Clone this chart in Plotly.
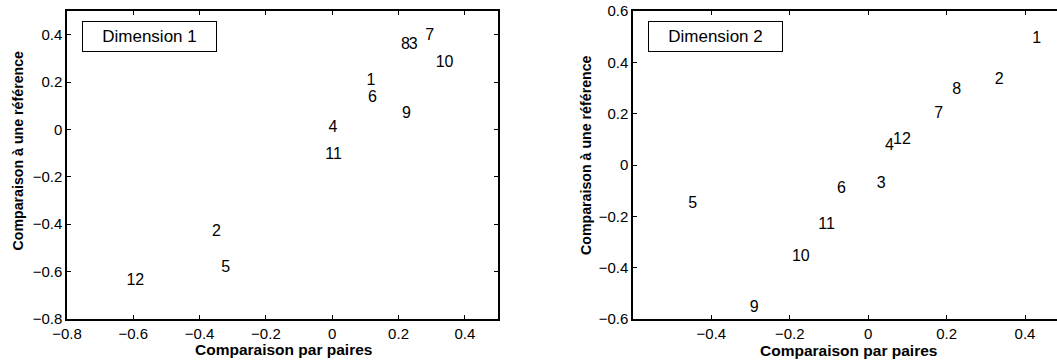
import plotly.graph_objects as go

# ---- Data ----
dim1_labels = ["1", "2", "3", "4", "5", "6", "7", "8", "9", "10", "11", "12"]
dim1_x = [0.117, -0.349, 0.244, 0.002, -0.321, 0.121, 0.294, 0.221, 0.224, 0.339, 0.004, -0.594]
dim1_y = [0.203, -0.433, 0.357, 0.005, -0.586, 0.134, 0.393, 0.357, 0.067, 0.279, -0.108, -0.638]

dim2_labels = ["1", "2", "3", "4", "5", "6", "7", "8", "9", "10", "11", "12"]
dim2_x = [0.430, 0.334, 0.033, 0.054, -0.448, -0.068, 0.180, 0.226, -0.291, -0.172, -0.106, 0.086]
dim2_y = [0.489, 0.332, -0.075, 0.073, -0.150, -0.095, 0.198, 0.292, -0.557, -0.358, -0.235, 0.098]

x1_ticks = [-0.8, -0.6, -0.4, -0.2, 0, 0.2, 0.4]
y1_ticks = [-0.8, -0.6, -0.4, -0.2, 0, 0.2, 0.4]
x2_ticks = [-0.4, -0.2, 0, 0.2, 0.4]
y2_ticks = [-0.6, -0.4, -0.2, 0, 0.2, 0.4, 0.6]

x_title = "Comparaison par paires"
y_title = "Comparaison à une référence"
box_titles = ["Dimension 1", "Dimension 2"]

FONT = "Liberation Sans, Arial, Helvetica, sans-serif"
W, H = 1057, 360
ML, MR, MT, MB = 0, 0, 11, 41
plot_h = H - MT - MB


def px_x(p):
    return p / W


def px_y(p):
    return (H - MB - p) / plot_h


fig = go.Figure()
fig.add_trace(go.Scatter(x=dim1_x, y=dim1_y, text=dim1_labels, mode="text",
                         textposition="middle center",
                         textfont=dict(family=FONT, size=16, color="black"),
                         xaxis="x", yaxis="y", hoverinfo="skip", showlegend=False,
                         cliponaxis=False))
fig.add_trace(go.Scatter(x=dim2_x, y=dim2_y, text=dim2_labels, mode="text",
                         textposition="middle center",
                         textfont=dict(family=FONT, size=16, color="black"),
                         xaxis="x2", yaxis="y2", hoverinfo="skip", showlegend=False,
                         cliponaxis=False))

axis_common = dict(showgrid=False, zeroline=False, showline=True, linecolor="black",
                   linewidth=1.5, ticks="inside", ticklen=4, tickcolor="black",
                   tickwidth=1, automargin=False,
                   tickfont=dict(family=FONT, size=15, color="black"))

fig.update_layout(
    width=W, height=H,
    margin=dict(l=ML, r=MR, t=MT, b=MB, pad=0, autoexpand=False),
    paper_bgcolor="white", plot_bgcolor="white",
    font=dict(family=FONT, color="black"),
    xaxis=dict(domain=[px_x(67), px_x(498)], range=[-0.8, 0.5], tickvals=x1_ticks,
               mirror="ticks", anchor="y", **axis_common),
    yaxis=dict(domain=[0, 1], range=[-0.8, 0.5], tickvals=y1_ticks,
               mirror="ticks", anchor="x", **axis_common),
    xaxis2=dict(domain=[px_x(633), 1.0], range=[-0.6, 0.4816], tickvals=x2_ticks,
                mirror="ticks", anchor="y2", **axis_common),
    yaxis2=dict(domain=[0, 1], range=[-0.6, 0.6], tickvals=y2_ticks,
                mirror=False, anchor="x2", **axis_common),
)

ann = []
# axis titles
ann.append(dict(text=f"<b>{x_title}</b>", x=px_x(283.8), y=px_y(349), xref="paper", yref="paper",
                xanchor="center", yanchor="middle", showarrow=False,
                font=dict(family=FONT, size=15.5, color="black")))
ann.append(dict(text=f"<b>{x_title}</b>", x=px_x(848.5), y=px_y(350), xref="paper", yref="paper",
                xanchor="center", yanchor="middle", showarrow=False,
                font=dict(family=FONT, size=15.5, color="black")))
ann.append(dict(text=f"<b>{y_title}</b>", x=px_x(17.5), y=px_y(151), xref="paper", yref="paper",
                xanchor="center", yanchor="middle", textangle=-90, showarrow=False,
                font=dict(family=FONT, size=14.2, color="black")))
ann.append(dict(text=f"<b>{y_title}</b>", x=px_x(586), y=px_y(155), xref="paper", yref="paper",
                xanchor="center", yanchor="middle", textangle=-90, showarrow=False,
                font=dict(family=FONT, size=14.2, color="black")))
# legend-like boxes
for bx, title in zip([82.3, 647.6], box_titles):
    ann.append(dict(text=title, x=px_x(bx), y=px_y(20.5), xref="paper", yref="paper",
                    xanchor="left", yanchor="top", showarrow=False,
                    width=129, height=25, borderpad=2, borderwidth=1, bordercolor="black",
                    bgcolor="white", align="center",
                    font=dict(family=FONT, size=17, color="black")))
fig.update_layout(annotations=ann)

fig.write_html("out.html", config={"displayModeBar": False},
               post_script="document.body.style.margin='0px';document.body.style.padding='0px';")
